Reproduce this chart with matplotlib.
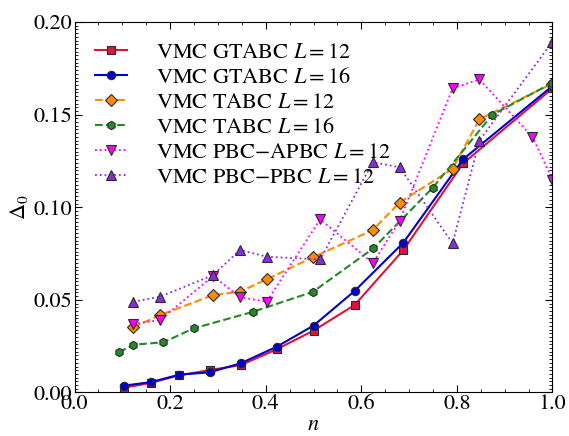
import matplotlib
matplotlib.use('Agg')
import matplotlib.pyplot as plt
from matplotlib.ticker import MultipleLocator

plt.rcParams['font.family'] = ['STIXGeneral', 'DejaVu Serif']
plt.rcParams['mathtext.fontset'] = 'stix'

# data
n_gt = [0.104, 0.160, 0.219, 0.283, 0.348, 0.423, 0.500, 0.586, 0.688, 0.813, 1.0]
gt12 = [0.0026, 0.0052, 0.0093, 0.0121, 0.0148, 0.0233, 0.0334, 0.0472, 0.0769, 0.1237, 0.1642]
gt16 = [0.0037, 0.0056, 0.0096, 0.0109, 0.0158, 0.0247, 0.0361, 0.0548, 0.0809, 0.1259, 0.1655]

n_tabc12 = [0.123, 0.179, 0.290, 0.346, 0.402, 0.498, 0.624, 0.680, 0.791, 0.847, 1.0]
tabc12 = [0.0352, 0.0418, 0.0526, 0.0544, 0.0611, 0.0729, 0.0877, 0.1025, 0.1208, 0.1475, 0.1668]

n_tabc16 = [0.093, 0.123, 0.186, 0.249, 0.374, 0.499, 0.625, 0.749, 0.874, 1.0]
tabc16 = [0.0217, 0.0258, 0.0271, 0.0346, 0.0436, 0.0544, 0.0778, 0.1104, 0.1499, 0.1672]

n_apbc = [0.123, 0.179, 0.290, 0.346, 0.402, 0.514, 0.624, 0.680, 0.791, 0.847, 0.958, 1.0]
apbc = [0.0370, 0.0391, 0.0629, 0.0514, 0.0490, 0.0935, 0.0699, 0.0925, 0.1642, 0.1690, 0.1380, 0.1149]

n_pbc = [0.123, 0.179, 0.290, 0.346, 0.402, 0.514, 0.624, 0.680, 0.791, 0.847, 1.0]
pbc = [0.0490, 0.0517, 0.0634, 0.0769, 0.0733, 0.0718, 0.1243, 0.1216, 0.0805, 0.1360, 0.1894]

fig = plt.figure(figsize=(5.69, 4.36), dpi=100)
ax = fig.add_axes([0.131, 0.0998, 0.840, 0.8497])

edge = '#2a2a2a'
ax.plot(n_gt, gt12, '-s', color='#dc143c', lw=1.5, ms=5.5, mec=edge, mew=0.8,
        label=r'VMC GTABC $L=12$')
ax.plot(n_gt, gt16, '-o', color='#0000cd', lw=1.5, ms=6, mec=edge, mew=0.8,
        label=r'VMC GTABC $L=16$')
ax.plot(n_tabc12, tabc12, '--D', color='#ff8c00', lw=1.5, ms=6.5, mec=edge, mew=0.8,
        label=r'VMC TABC $L=12$')
ax.plot(n_tabc16, tabc16, '--h', color='#228b22', lw=1.5, ms=6, mec=edge, mew=0.8,
        label=r'VMC TABC $L=16$')
ax.plot(n_apbc, apbc, ':v', color='#ff00ff', lw=1.3, ms=7, mec=edge, mew=0.8,
        label=r'VMC PBC$-$APBC $L=12$')
ax.plot(n_pbc, pbc, ':^', color='#8a2be2', lw=1.3, ms=7, mec=edge, mew=0.8,
        label=r'VMC PBC$-$PBC $L=12$')

ax.set_xlim(0, 1.0)
ax.set_ylim(0, 0.20)
ax.xaxis.set_major_locator(MultipleLocator(0.2))
ax.xaxis.set_minor_locator(MultipleLocator(0.05))
ax.yaxis.set_major_locator(MultipleLocator(0.05))
ax.yaxis.set_minor_locator(MultipleLocator(0.002))
ax.xaxis.set_major_formatter(plt.FormatStrFormatter('%.1f'))
ax.yaxis.set_major_formatter(plt.FormatStrFormatter('%.2f'))
ax.tick_params(which='both', direction='in', top=True, right=True, labelsize=16)
ax.tick_params(which='major', length=5, width=0.8)
ax.tick_params(which='minor', length=2.5, width=0.6)
ax.tick_params(axis='x', pad=1)
ax.tick_params(axis='y', pad=2)

ax.set_xlabel(r'$n$', fontsize=16, labelpad=1)
ax.set_ylabel(r'$\Delta_0$', fontsize=16, labelpad=2)

ax.legend(loc='upper left', frameon=False, fontsize=16, handlelength=1.45,
          handletextpad=1.3, labelspacing=0.2, borderaxespad=0.5)

fig.savefig('out.png', dpi=100)
